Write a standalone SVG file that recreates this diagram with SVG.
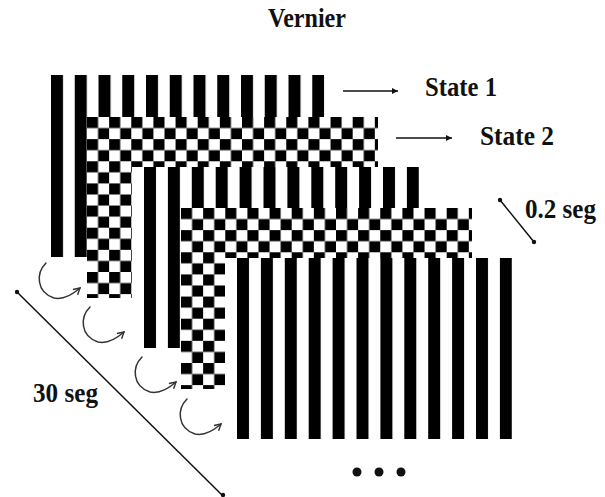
<svg xmlns="http://www.w3.org/2000/svg" xmlns:xlink="http://www.w3.org/1999/xlink" width="605" height="497" viewBox="0 0 605 497">
<style>
text{font-family:"Liberation Serif","Times New Roman",serif;font-weight:bold;fill:#111;}
.t{font-size:27px;}
.bg{fill:#fff;}
.curl{fill:none;stroke:#333;stroke-width:1.5;stroke-linecap:round;}
.ln{stroke:#111;stroke-width:1.5;fill:none;}
.dot{fill:#111;}
</style>
<defs>
<pattern id="s1" patternUnits="userSpaceOnUse" x="51" y="0" width="23.75" height="10"><rect width="12" height="10" fill="#000"/></pattern>
<pattern id="s3" patternUnits="userSpaceOnUse" x="144" y="0" width="23.9" height="10"><rect width="12" height="10" fill="#000"/></pattern>
<pattern id="s5" patternUnits="userSpaceOnUse" x="237" y="0" width="23.9" height="10"><rect width="12" height="10" fill="#000"/></pattern>
<pattern id="c2" patternUnits="userSpaceOnUse" x="87" y="117" width="22.14" height="22.14"><rect width="11.07" height="11.07" fill="#000"/><rect x="11.07" y="11.07" width="11.07" height="11.07" fill="#000"/></pattern>
<pattern id="c4" patternUnits="userSpaceOnUse" x="181" y="208" width="22.14" height="22.14"><rect width="11.07" height="11.07" fill="#000"/><rect x="11.07" y="11.07" width="11.07" height="11.07" fill="#000"/></pattern>
<marker id="ah" viewBox="0 0 10 10" refX="10" refY="5" markerWidth="7" markerHeight="6" markerUnits="userSpaceOnUse" orient="auto"><path d="M0,0 L10,5 L0,10 z" fill="#111"/></marker>
<marker id="va" viewBox="0 0 10 10" refX="8" refY="5" markerWidth="9" markerHeight="9" markerUnits="userSpaceOnUse" orient="auto"><path d="M1,1 L8,5 L1,9" fill="none" stroke="#333" stroke-width="1.6"/></marker>
</defs>
<rect width="605" height="497" fill="#fff"/>

<g id="frame1">
<rect class="bg" x="39" y="75" width="289" height="182"/>
<rect x="51" y="75" width="273.25" height="182" fill="url(#s1)"/>
</g>
<g id="frame2">
<rect class="bg" x="87" y="117" width="291" height="181"/>
<rect x="87" y="117" width="291" height="181" fill="url(#c2)"/>
</g>
<g id="frame3">
<rect class="bg" x="132" y="167" width="287" height="181"/>
<rect x="144" y="167" width="274.9" height="181" fill="url(#s3)"/>
</g>
<g id="frame4">
<rect class="bg" x="181" y="208" width="291" height="181"/>
<rect x="181" y="208" width="291" height="181" fill="url(#c4)"/>
</g>
<g id="frame5">
<rect class="bg" x="225" y="258" width="287" height="181"/>
<rect x="237" y="258" width="274.9" height="181" fill="url(#s5)"/>
</g>

<g id="connectors">
<line class="ln" x1="343" y1="91" x2="398" y2="91" marker-end="url(#ah)"/>
<line class="ln" x1="396" y1="138" x2="452" y2="138" marker-end="url(#ah)"/>
<line class="ln" x1="500" y1="200" x2="534" y2="242" stroke-width="1.3"/>
<circle class="dot" cx="500" cy="200" r="2.2"/>
<circle class="dot" cx="534" cy="242" r="2.2"/>
<line class="ln" x1="17" y1="292" x2="223" y2="496" stroke-width="1.3"/>
<circle class="dot" cx="17" cy="292" r="2.2"/>
<circle class="dot" cx="223" cy="495" r="2.2"/>
<path class="curl" transform="translate(46 263)" d="M0 0 c-10 10 -10 29 8 35 c9 2 18 -3 26 -10" marker-end="url(#va)"/>
<path class="curl" transform="translate(90 307)" d="M0 0 c-10 10 -10 29 8 35 c9 2 18 -3 26 -10" marker-end="url(#va)"/>
<path class="curl" transform="translate(142 357)" d="M0 0 c-10 10 -10 29 8 35 c9 2 18 -3 26 -10" marker-end="url(#va)"/>
<path class="curl" transform="translate(187 399)" d="M0 0 c-10 10 -10 29 8 35 c9 2 18 -3 26 -10" marker-end="url(#va)"/>
</g>

<g id="title"><text class="t" x="268" y="27" textLength="78" lengthAdjust="spacingAndGlyphs">Vernier</text></g>
<g id="label-state1"><text class="t" x="425" y="96" textLength="72" lengthAdjust="spacingAndGlyphs">State 1</text></g>
<g id="label-state2"><text class="t" x="480" y="145" textLength="74" lengthAdjust="spacingAndGlyphs">State 2</text></g>
<g id="label-02seg"><text class="t" x="525" y="218" textLength="71" lengthAdjust="spacingAndGlyphs">0.2 seg</text></g>
<g id="label-30seg"><text class="t" x="33" y="402" textLength="65" lengthAdjust="spacingAndGlyphs">30 seg</text></g>
<g id="ellipsis">
<circle class="dot" cx="357" cy="472" r="4.5"/>
<circle class="dot" cx="379" cy="472" r="4.5"/>
<circle class="dot" cx="401" cy="472" r="4.5"/>
</g>
</svg>
